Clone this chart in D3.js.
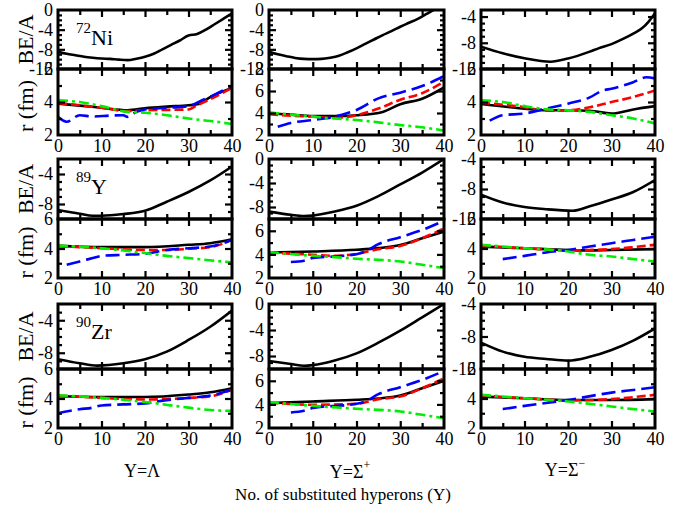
<!DOCTYPE html>
<html>
<head>
<meta charset="utf-8">
<script src="https://cdn.jsdelivr.net/npm/d3@7"></script>
<style>
  body { margin: 0; background: #fff; }
  svg, svg text { font-family: "Liberation Serif", "Times New Roman", Times, serif; }
</style>
</head>
<body>
<svg id="chart" width="683" height="514" font-family="Liberation Serif, serif"></svg>
<script>
// ---- data: [hyperon count, value] ----
// binding energy per nucleon (MeV)
const niLamBE = [[0,-8.5],[2,-8.9],[4,-9.2],[6,-9.5],[8,-9.7],[10,-9.85],[12,-9.95],[14,-10.1],[16,-10.2],[18,-9.9],[20,-9.5],[22,-8.9],[24,-8.0],[26,-7.1],[28,-6.2],[30,-5.2],[32,-4.9],[34,-4.0],[36,-2.9],[38,-1.8],[40,-0.7]]
const niSigPBE = [[0,-8.5],[2,-9.0],[4,-9.4],[6,-9.75],[8,-9.95],[10,-10.0],[12,-9.95],[14,-9.7],[16,-9.3],[18,-8.6],[20,-7.8],[22,-6.9],[24,-6.0],[26,-5.1],[28,-4.3],[30,-3.4],[32,-2.6],[34,-1.8],[36,-0.8],[38,0.2],[40,1.0]]
const niSigMBE = [[0,-8.6],[5,-9.6],[10,-10.37],[16,-10.9],[20,-10.4],[25,-9.35],[27,-8.85],[30,-8.2],[33,-7.3],[35,-6.6],[37,-5.8],[38.5,-4.8],[40,-3.5]]
const yLamBE = [[0,-8.8],[5,-9.3],[8,-9.56],[10,-9.56],[15,-9.34],[20,-8.9],[25,-7.7],[30,-6.4],[35,-4.86],[40,-3.0]]
const ySigPBE = [[0,-8.76],[5,-9.3],[8,-9.5],[10,-9.43],[15,-8.76],[20,-7.8],[25,-6.2],[30,-4.24],[35,-2.26],[40,0]]
const ySigMBE = [[0,-8.75],[5,-9.8],[10,-10.4],[15,-10.7],[21,-10.9],[25,-10.3],[30,-9.4],[35,-8.4],[40,-6.8]]
const zrLamBE = [[0,-8.8],[5,-9.3],[9,-9.58],[15,-9.3],[20,-8.8],[25,-7.86],[30,-6.43],[35,-4.8],[40,-2.8]]
const zrSigPBE = [[0,-8.77],[5,-9.23],[8,-9.5],[10,-9.4],[15,-8.7],[20,-7.6],[25,-5.95],[30,-4.1],[35,-2.05],[40,0]]
const zrSigMBE = [[0,-8.75],[5,-9.86],[10,-10.5],[15,-10.76],[20,-10.97],[25,-10.5],[30,-9.66],[35,-8.5],[40,-7.0]]

// radii (fm): black, red, blue, green curves
const niLamR = [
  [[0,3.9],[5,3.78],[10,3.65],[16,3.5],[20,3.62],[25,3.72],[30,3.8],[32,3.86],[35,4.3],[40,4.85]],
  [[0,3.95],[5,3.8],[10,3.65],[16,3.45],[20,3.5],[25,3.52],[30,3.55],[32,3.8],[36,4.3],[40,4.85]],
  [[0,3.1],[2,2.8],[5,3.2],[8,3.12],[12,3.18],[15,3.2],[16,3.1],[18,3.4],[20,3.55],[25,3.65],[30,3.75],[33,4.1],[36,4.45],[40,4.97]],
  [[0,4.1],[5,4.0],[10,3.75],[16,3.4],[20,3.35],[25,3.2],[30,3.0],[35,2.85],[40,2.67]]
]
const niSigPR = [
  [[0,3.97],[5,3.85],[10,3.73],[15,3.72],[20,3.8],[26,4.1],[30,4.8],[35,5.3],[40,6.33]],
  [[0,3.9],[5,3.75],[10,3.67],[15,3.55],[20,3.8],[25,4.4],[30,5.2],[35,5.8],[40,6.85]],
  [[2,2.76],[5,3.1],[10,3.36],[15,3.67],[18,4.0],[20,4.27],[25,5.33],[30,5.85],[35,6.45],[40,7.36]],
  [[0,4.06],[5,3.85],[10,3.67],[15,3.5],[20,3.36],[25,3.15],[30,2.9],[35,2.7],[40,2.4]]
]
const niSigMR = [
  [[0,3.88],[10,3.6],[15,3.5],[20,3.5],[25,3.47],[30,3.3],[35,3.55],[40,3.75]],
  [[0,3.96],[10,3.68],[15,3.47],[20,3.5],[25,3.68],[30,4.0],[35,4.3],[40,4.7]],
  [[2,2.87],[5,3.2],[10,3.3],[15,3.6],[20,3.9],[25,4.28],[28,4.7],[30,4.8],[35,5.2],[38,5.5],[40,5.43]],
  [[0,4.1],[5,4.0],[10,3.75],[15,3.56],[20,3.5],[25,3.4],[30,3.2],[35,3.0],[40,2.7]]
]
const yLamR = [
  [[0,4.18],[10,4.09],[20,4.09],[30,4.25],[35,4.36],[40,4.63]],
  [[0,4.18],[10,4.02],[20,3.9],[25,3.9],[30,3.98],[35,4.09],[40,4.58]],
  [[2,2.9],[5,3.12],[8,3.35],[10,3.5],[15,3.57],[20,3.64],[25,3.9],[30,4.02],[35,4.13],[40,4.58]],
  [[0,4.2],[10,4.02],[20,3.69],[25,3.5],[30,3.35],[40,3.05]]
]
const ySigPR = [
  [[0,4.16],[10,4.25],[20,4.39],[25,4.53],[30,4.8],[35,5.37],[40,5.93]],
  [[0,4.16],[10,3.97],[15,3.88],[20,4.05],[25,4.44],[30,4.72],[35,5.37],[40,6.2]],
  [[5,3.35],[8,3.46],[10,3.69],[15,3.83],[20,4.02],[22,4.25],[25,4.87],[30,5.46],[35,6.07],[40,6.86]],
  [[0,4.19],[10,3.88],[15,3.77],[20,3.63],[25,3.54],[30,3.4],[35,3.12],[40,2.84]]
]
const ySigMR = [
  [[0,4.13],[10,4.02],[20,3.9],[25,3.87],[30,3.9],[40,3.96]],
  [[0,4.18],[10,4.02],[20,3.87],[25,3.9],[30,3.96],[35,4.09],[40,4.25]],
  [[5,3.28],[10,3.5],[15,3.73],[20,3.9],[25,4.13],[30,4.36],[35,4.58],[40,4.8]],
  [[0,4.25],[10,4.02],[20,3.8],[25,3.57],[30,3.46],[35,3.28],[40,3.12]]
]
const zrLamR = [
  [[0,4.15],[10,4.1],[20,4.1],[30,4.27],[35,4.42],[40,4.7]],
  [[0,4.2],[10,4.04],[20,3.93],[30,4.04],[35,4.15],[40,4.6]],
  [[0,3.0],[5,3.27],[8,3.38],[10,3.53],[15,3.6],[20,3.67],[25,3.89],[30,4.04],[35,4.2],[40,4.6]],
  [[0,4.22],[10,4.04],[20,3.76],[30,3.38],[35,3.22],[40,3.16]]
]
const zrSigPR = [
  [[0,4.1],[10,4.25],[20,4.39],[25,4.5],[30,4.75],[35,5.37],[40,6.0]],
  [[0,4.16],[10,3.97],[20,4.05],[25,4.44],[30,4.67],[35,5.37],[40,6.2]],
  [[5,3.32],[8,3.46],[10,3.69],[20,4.05],[22,4.25],[25,4.87],[30,5.46],[35,6.07],[40,6.83]],
  [[0,4.19],[10,3.88],[20,3.63],[30,3.4],[35,3.12],[40,2.82]]
]
const zrSigMR = [
  [[0,4.13],[10,4.02],[20,3.9],[30,3.9],[40,3.96]],
  [[0,4.2],[10,4.02],[20,3.87],[30,3.96],[35,4.09],[40,4.25]],
  [[5,3.28],[10,3.5],[20,3.9],[30,4.4],[35,4.58],[40,4.76]],
  [[0,4.25],[10,4.02],[20,3.8],[30,3.46],[35,3.28],[40,3.12]]
]

const beData = [[niLamBE, niSigPBE, niSigMBE], [yLamBE, ySigPBE, ySigMBE], [zrLamBE, zrSigPBE, zrSigMBE]]
const rData = [[niLamR, niSigPR, niSigMR], [yLamR, ySigPR, ySigMR], [zrLamR, zrSigPR, zrSigMR]]

// axis ranges and tick labels
const beDomains = [[[-12,0],[-12,0],[-12,-3]], [[-10,-2],[-10,0],[-12,-4]], [[-10,-2],[-10,0],[-12,-4]]]
const beLabels = [[[0,-4,-8,-12],[0,-4,-8,-12],[-4,-8,-12]], [[-4,-8],[0,-4,-8],[-4,-8,-12]], [[-4,-8],[0,-4,-8],[-4,-8,-12]]]
const rDomains = [[[2,6],[2,8],[2,6]], [[2,6],[2,7],[2,6]], [[2,6],[2,7],[2,6]]]
const rLabels = [[[2,4,6],[2,4,6,8],[2,4,6]], [[2,4,6],[2,4,6],[2,4,6]], [[2,4,6],[2,4,6],[2,4,6]]]
const xLabels = [0, 10, 20, 30, 40]
const massNumbers = ['72', '89', '90']
const elements = ['Ni', 'Y', 'Zr']

// ---- layout ----
const colX = [[58, 232], [269, 444], [481, 655]]
const rowY = [[10, 69, 135], [159, 219, 278], [304, 369, 428]]
const lineColors = ['#000000', '#ff0000', '#0000ff', '#00ee00']
const lineDash = [null, '9,4', '14,6', '10,4,3,4']
const serif = '"Liberation Serif", serif'

const svg = d3.select('#chart')
let clipCount = 0

function drawPanel(x0, x1, y0, y1, domain, majorStep, labels, lines, showX) {
    let xs = d3.scaleLinear().domain([0, 40]).range([x0, x1])
    let ys = d3.scaleLinear().domain(domain).range([y1, y0])
    let g = svg.append('g')

    let clipId = 'clip' + (clipCount++)
    g.append('clipPath').attr('id', clipId)
        .append('rect').attr('x', x0).attr('y', y0).attr('width', x1 - x0).attr('height', y1 - y0)

    // curves
    let line = d3.line().x(d => xs(d[0])).y(d => ys(d[1])).curve(d3.curveMonotoneX)
    g.append('g').attr('clip-path', 'url(#' + clipId + ')')
        .selectAll('path')
        .data(lines)
        .join('path')
        .attr('fill', 'none')
        .attr('stroke', (d, i) => lines.length == 1 ? '#000' : lineColors[i])
        .attr('stroke-width', 2.6)
        .attr('stroke-dasharray', (d, i) => lines.length == 1 ? null : lineDash[i])
        .attr('d', d => line(d))

    // x ticks (inward, top and bottom)
    let xMajor = [10, 20, 30]
    let xMinor = [5, 15, 25, 35]
    let axes = [
        [d3.axisBottom(xs).tickValues(xMajor).tickSize(-7), y1],
        [d3.axisBottom(xs).tickValues(xMinor).tickSize(-5), y1],
        [d3.axisTop(xs).tickValues(xMajor).tickSize(-7), y0],
        [d3.axisTop(xs).tickValues(xMinor).tickSize(-5), y0]
    ]
    axes.forEach(([ax, y]) => {
        let a = g.append('g').attr('transform', 'translate(0,' + y + ')').call(ax.tickFormat(''))
        a.select('.domain').remove()
        a.selectAll('line').attr('stroke-width', 2.2)
    })

    // y ticks (inward, left and right)
    let all = d3.range(Math.ceil(domain[0]), Math.floor(domain[1]) + 1)
        .filter(v => v > domain[0] && v < domain[1])
    let major = all.filter(v => v % majorStep == 0)
    let minor = all.filter(v => v % majorStep != 0)
    let yAxes = [
        [d3.axisLeft(ys).tickValues(major).tickSize(-7), x0],
        [d3.axisLeft(ys).tickValues(minor).tickSize(-4), x0],
        [d3.axisRight(ys).tickValues(major).tickSize(-7), x1],
        [d3.axisRight(ys).tickValues(minor).tickSize(-4), x1]
    ]
    yAxes.forEach(([ax, x]) => {
        let a = g.append('g').attr('transform', 'translate(' + x + ',0)').call(ax.tickFormat(''))
        a.select('.domain').remove()
        a.selectAll('line').attr('stroke-width', 2.2)
    })

    // y tick labels
    let la = g.append('g').attr('transform', 'translate(' + x0 + ',0)')
        .call(d3.axisLeft(ys).tickValues(labels).tickSize(0).tickPadding(5).tickFormat(d => String(d)))
    la.attr('font-family', serif).attr('font-size', 18)
    la.select('.domain').remove()
    la.selectAll('text').attr('fill', '#000')

    if (showX) {
        let xa = g.append('g').attr('transform', 'translate(0,' + y1 + ')')
            .call(d3.axisBottom(xs).tickValues(xLabels).tickSize(0).tickPadding(4).tickFormat(d => String(d)))
        xa.attr('font-family', serif).attr('font-size', 18)
        xa.select('.domain').remove()
        xa.selectAll('text').attr('fill', '#000')
    }

    // frame
    g.append('rect').attr('x', x0).attr('y', y0).attr('width', x1 - x0).attr('height', y1 - y0)
        .attr('fill', 'none').attr('stroke', '#000').attr('stroke-width', 3)
}

for (let r = 0; r < 3; r++) {
    for (let c = 0; c < 3; c++) {
        let [x0, x1] = colX[c]
        let [yTop, yMid, yBot] = rowY[r]
        drawPanel(x0, x1, yTop, yMid, beDomains[r][c], 4, beLabels[r][c], [beData[r][c]], false)
        drawPanel(x0, x1, yMid, yBot, rDomains[r][c], 2, rLabels[r][c], rData[r][c], true)
    }
    let [yTop, yMid, yBot] = rowY[r]
    // axis titles on the left column
    svg.append('text').attr('transform', 'translate(33,' + ((yTop + yMid) / 2) + ') rotate(-90)')
        .attr('text-anchor', 'middle').attr('font-size', 22).text('BE/A')
    svg.append('text').attr('transform', 'translate(33,' + ((yMid + yBot) / 2 + 4) + ') rotate(-90)')
        .attr('text-anchor', 'middle').attr('font-size', 22).text('r (fm)')
    // nucleus label
    let lab = svg.append('text').attr('x', 76).attr('y', yTop + 35).attr('font-size', 22)
    lab.append('tspan').attr('font-size', 15).attr('dy', -12).text(massNumbers[r])
    lab.append('tspan').attr('dy', 12).text(elements[r])
}

// hyperon species under each column
const speciesX = [142, 350, 565]
let t1 = svg.append('text').attr('x', speciesX[0]).attr('y', 477).attr('text-anchor', 'middle').attr('font-size', 18)
t1.text('Y=Λ')
let t2 = svg.append('text').attr('x', speciesX[1]).attr('y', 478).attr('text-anchor', 'middle').attr('font-size', 18)
t2.append('tspan').text('Y=Σ')
t2.append('tspan').attr('font-size', 12).attr('dy', -9).text('+')
let t3 = svg.append('text').attr('x', speciesX[2]).attr('y', 476).attr('text-anchor', 'middle').attr('font-size', 18)
t3.append('tspan').text('Y=Σ')
t3.append('tspan').attr('font-size', 12).attr('dy', -9).text('−')

svg.append('text').attr('x', 343).attr('y', 500).attr('text-anchor', 'middle').attr('font-size', 17)
    .text('No. of substituted hyperons (Y)')
</script>
</body>
</html>
